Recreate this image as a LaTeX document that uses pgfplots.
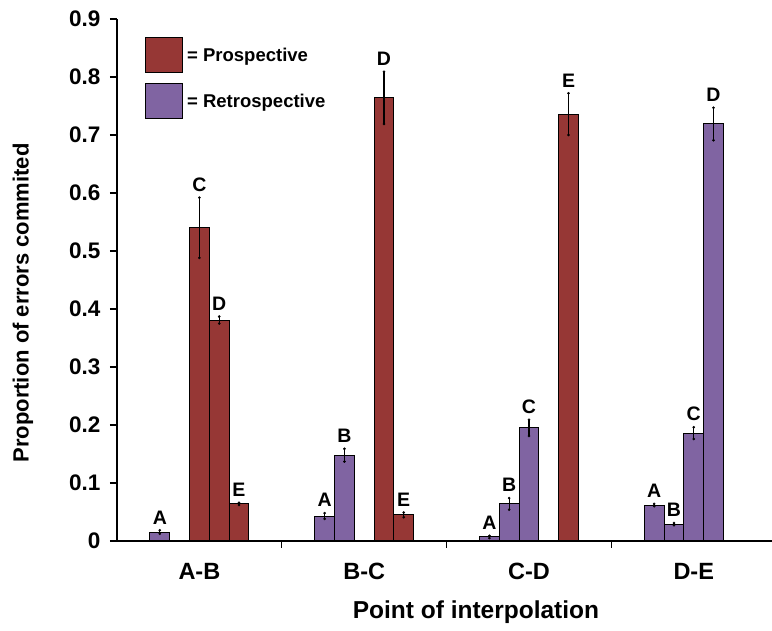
\documentclass[border=0pt]{standalone}
\usepackage{fontspec}
\setmainfont{Liberation Sans}
\usepackage{pgfplots}
\pgfplotsset{compat=1.18}
\usepackage{pgfplotstable}
\definecolor{pro}{RGB}{150,55,53}
\definecolor{ret}{RGB}{128,100,162}

\pgfplotstableread{
x y e lab
0.00 0.540 0.052 C
0.12 0.381 0.006 D
0.24 0.064 0.002 E
1.12 0.764 0.045 D
1.24 0.045 0.004 E
2.24 0.736 0.036 E
}\protab

\pgfplotstableread{
x y e lab
-0.24 0.0155 0.003 A
0.76 0.043 0.005 A
0.88 0.148 0.011 B
1.76 0.007 0.002 A
1.88 0.064 0.010 B
2.00 0.195 0.014 C
2.76 0.062 0.002 A
2.88 0.029 0.002 B
3.00 0.186 0.010 C
3.12 0.719 0.028 D
}\rettab

\begin{document}
\begin{tikzpicture}
\begin{axis}[name=ax, scale only axis, width=655pt, height=522pt,
  xmin=-0.5, xmax=3.475, ymin=0, ymax=0.9,
  axis lines=left, axis line style={-, line width=1.2pt},
  tick align=outside,
  ytick={0,0.1,0.2,0.3,0.4,0.5,0.6,0.7,0.8,0.9},
  ytick style={line width=1.1pt, black}, 
  major tick length=7pt,
  xtick={0.5,1.5,2.5}, xticklabels={},
  xtick style={line width=1.1pt, black},
  extra x ticks={0,1,2,3}, extra x tick labels={A-B,B-C,C-D,D-E},
  extra x tick style={major tick length=0pt, tick style={draw=none}},
  /pgf/number format/assume math mode=true,
  yticklabel style={anchor=east, xshift=-6pt, font=\bfseries\fontsize{22.5}{26}\selectfont},
  xticklabel style={anchor=base, yshift=-39pt, font=\bfseries\fontsize{23.5}{27}\selectfont},
  ylabel={Proportion of errors commited},
  every axis y label/.style={at={(rel axis cs:-0.1435,0.456)}, rotate=90, anchor=center,
    font=\bfseries\fontsize{22}{26}\selectfont},
  xlabel={Point of interpolation},
  every axis x label/.style={at={(rel axis cs:0.548,-0.1494)}, anchor=base,
    font=\bfseries\fontsize{24.5}{28}\selectfont},
  legend style={draw=none, fill=none, at={(rel axis cs:0.0427,0.9655)}, anchor=north west,
    font=\bfseries\fontsize{18.5}{22}\selectfont, row sep=10pt, inner sep=0pt,
    cells={anchor=west}, nodes={inner xsep=4pt}},
  nodes near coords style={font=\bfseries\fontsize{19.5}{23}\selectfont, anchor=south, inner sep=0pt, yshift=6pt},
]
\addplot[ybar, bar width=0.12, bar shift=0pt, fill=pro, draw=black, line width=1pt,
  legend image code/.code={\draw[fill=pro, draw=black, line width=1pt] (0pt,-17.5pt) rectangle (37pt,17.5pt);},
  error bars/.cd, y dir=both, y explicit,
  error bar style={line width=1.3pt, black}, error mark=*, error mark options={mark size=1.1pt, fill=black}]
  table[x=x, y=y, y error=e]{\protab};
\addlegendentry{= Prospective}
\addplot[ybar, bar width=0.12, bar shift=0pt, fill=ret, draw=black, line width=1pt,
  legend image code/.code={\draw[fill=ret, draw=black, line width=1pt] (0pt,-17.5pt) rectangle (37pt,17.5pt);},
  error bars/.cd, y dir=both, y explicit,
  error bar style={line width=1.3pt, black}, error mark=*, error mark options={mark size=1.1pt, fill=black}]
  table[x=x, y=y, y error=e]{\rettab};
\addlegendentry{= Retrospective}
\addplot[draw=none, mark=none, forget plot, nodes near coords, point meta=explicit symbolic]
  table[x=x, y expr=\thisrow{y}+\thisrow{e}, meta=lab]{\protab};
\addplot[draw=none, mark=none, forget plot, nodes near coords, point meta=explicit symbolic]
  table[x=x, y expr=\thisrow{y}+\thisrow{e}, meta=lab]{\rettab};
\end{axis}
\pgfresetboundingbox
\path ([xshift=-117pt, yshift=-90pt]ax.south west) rectangle ([yshift=19pt]ax.north east);
\end{tikzpicture}
\end{document}
